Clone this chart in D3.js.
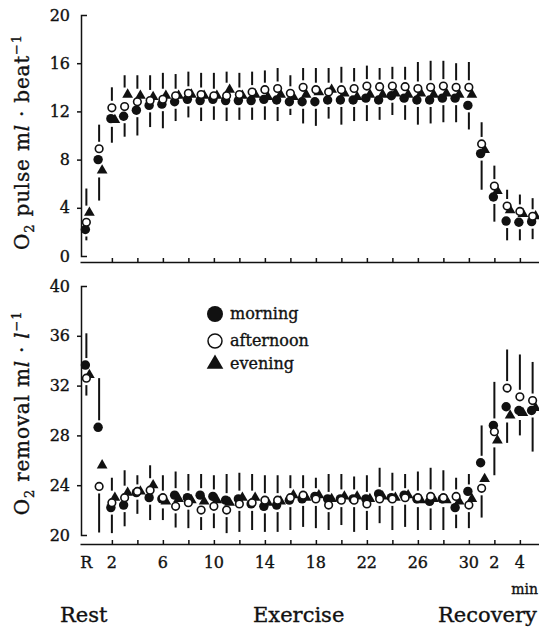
<!DOCTYPE html>
<html>
<head>
<meta charset="utf-8">
<script src="https://cdn.jsdelivr.net/npm/d3@7"></script>
<style>
  body { margin: 0; background: #fff; }
  svg { display: block; }
  text { font-family: "DejaVu Serif", "Liberation Serif", serif; fill: #111; stroke: #111; stroke-width: 0.35px; }
  .axis path, .axis line { stroke: #111; stroke-width: 1.5; }
</style>
</head>
<body>
<svg></svg>
<script>
// time points: 0 = R (rest), 1..30 exercise minutes, 31..35 recovery minutes 1..5
let steps = d3.range(36)
let xTickPos = [2, 4, 6, 8, 10, 12, 14, 16, 18, 20, 22, 24, 26, 28, 30, 32, 34]
let xLabelPos = [0, 2, 6, 10, 14, 18, 22, 26, 30, 32, 34]
let xLabels = ['R', '2', '6', '10', '14', '18', '22', '26', '30', '2', '4']

let pulseTicks = [0, 4, 8, 12, 16, 20]
let removalTicks = [20, 24, 28, 32, 36, 40]

// O2 pulse (ml/beat)
let pulseMorning = [2.2, 8.0, 11.4, 11.6, 12.1, 12.5, 12.6, 12.8, 13.0, 12.9, 13.0, 12.9, 12.9, 12.9, 13.0, 12.95, 12.8, 12.8, 12.8, 12.95, 12.95, 12.95, 13.1, 12.95, 13.3, 13.1, 12.95, 12.95, 13.1, 13.1, 12.5, 8.5, 4.9, 2.9, 2.8, 2.85]
let pulseAfternoon = [2.8, 8.9, 12.3, 12.4, 12.8, 12.9, 13.0, 13.3, 13.5, 13.4, 13.3, 13.3, 13.4, 13.6, 13.8, 13.9, 13.5, 14.0, 13.8, 13.6, 13.8, 13.9, 14.1, 14.05, 14.1, 14.05, 13.9, 14.0, 14.1, 14.0, 14.0, 9.3, 5.8, 4.15, 3.7, 3.3]
let pulseEvening = [3.6, 7.1, 11.3, 13.4, 13.3, 13.2, 13.3, 13.3, 13.4, 13.3, 13.3, 13.8, 13.3, 13.4, 13.2, 13.4, 13.2, 13.4, 13.6, 13.8, 13.5, 13.2, 13.4, 13.4, 13.5, 13.4, 13.5, 13.4, 13.5, 13.4, 13.4, 8.8, 5.4, 3.8, 3.5, 3.3]
let pulseUpper = [5.6, 10.9, 14.0, 15.0, 15.0, 15.0, 15.2, 15.1, 15.3, 15.2, 15.2, 15.3, 15.2, 15.3, 15.4, 15.6, 15.0, 15.6, 15.6, 15.6, 15.7, 15.6, 15.8, 15.6, 15.7, 15.7, 16.1, 16.2, 16.2, 16.0, 16.1, 11.1, 7.5, 5.5, 5.1, 4.8]
let pulseLower = [1.3, 4.6, 9.4, 9.9, 10.0, 10.7, 10.6, 11.2, 11.5, 11.2, 11.3, 11.2, 11.3, 11.3, 11.3, 11.2, 11.7, 11.0, 10.8, 11.4, 10.9, 11.2, 11.2, 11.3, 11.7, 11.3, 10.9, 11.0, 11.1, 11.1, 10.5, 5.5, 2.85, 1.3, 1.3, 1.4]

// O2 removal (ml/l)
let removalMorning = [33.65, 28.65, 22.2, 22.4, 23.4, 23.0, 22.9, 23.2, 23.0, 23.2, 23.1, 22.8, 22.9, 22.5, 22.3, 22.4, 22.8, 22.9, 23.1, 22.9, 22.9, 22.9, 22.9, 23.3, 23.0, 23.2, 22.9, 22.7, 22.9, 22.2, 23.5, 25.8, 28.8, 30.3, 30.0, 30.0]
let removalAfternoon = [32.6, 23.9, 22.6, 23.0, 23.5, 23.6, 23.0, 22.3, 22.6, 22.0, 22.3, 22.0, 22.5, 22.6, 22.8, 22.8, 23.0, 23.2, 22.9, 22.4, 22.8, 22.8, 22.5, 22.9, 22.9, 23.0, 23.0, 23.1, 23.0, 23.1, 22.4, 23.75, 28.3, 31.8, 31.1, 30.8]
let removalEvening = [32.85, 25.6, 23.0, 23.4, 23.5, 24.0, 22.7, 22.9, 22.8, 22.7, 22.8, 22.6, 23.0, 23.0, 22.6, 22.7, 23.2, 23.0, 23.2, 22.9, 23.1, 23.1, 22.9, 23.1, 23.0, 23.2, 22.8, 22.9, 22.8, 22.7, 22.9, 24.5, 27.6, 29.6, 29.8, 30.2]
let removalUpper = [36.2, 32.6, 24.6, 25.2, 24.8, 25.6, 24.8, 25.1, 24.9, 24.9, 24.8, 24.9, 25.0, 24.9, 24.8, 24.8, 24.8, 24.8, 24.6, 24.9, 24.9, 24.7, 24.8, 25.4, 25.0, 24.9, 25.1, 25.4, 25.2, 24.6, 24.9, 28.8, 32.3, 34.9, 34.5, 33.9]
let removalLower = [31.2, 20.2, 20.15, 20.7, 21.7, 21.2, 21.2, 20.6, 20.55, 20.4, 20.55, 20.15, 20.25, 20.4, 20.25, 20.25, 20.4, 20.65, 20.55, 20.4, 20.8, 20.25, 20.4, 20.95, 20.4, 20.65, 20.4, 20.4, 20.4, 20.55, 20.55, 21.4, 24.8, 27.4, 28.0, 26.7]

let legendNames = ['morning', 'afternoon', 'evening']

/*
*  RUN
*/
let width = 539,
    height = 633

let svg = d3.select('svg').attr('width', width).attr('height', height)

let x = d3.scaleLinear().domain([-0.5, 35.5]).range([80, 539])

drawPanel({
  y: d3.scaleLinear().domain([0, 20]).range([256, 15]),
  ticks: pulseTicks,
  axisY: 262,
  series: [pulseMorning, pulseAfternoon, pulseEvening],
  upper: pulseUpper,
  lower: pulseLower,
  labels: false
})

drawPanel({
  y: d3.scaleLinear().domain([20, 40]).range([535, 286]),
  ticks: removalTicks,
  axisY: 544,
  series: [removalMorning, removalAfternoon, removalEvening],
  upper: removalUpper,
  lower: removalLower,
  labels: true
})

drawTitles()
drawLegend()

/*
*  HELPERS
*/
function drawPanel(p){
  let g = svg.append('g')

  // y axis, end ticks point inward like the print
  g.append('g').attr('class', 'axis')
    .attr('transform', 'translate(81,0)')
    .call(d3.axisLeft(p.y).tickValues(p.ticks).tickSizeInner(4).tickSizeOuter(-6).tickPadding(7))
    .call(a => a.selectAll('text').style('font-size', '16px').style('font-family', '"DejaVu Serif", serif').attr('fill', '#111'))
    .call(a => a.selectAll('.tick').filter(d => d === p.ticks[0] || d === p.ticks[p.ticks.length - 1]).select('line').remove())

  // x axis, ticks point up
  g.append('g').attr('class', 'axis')
    .attr('transform', `translate(0,${p.axisY})`)
    .call(d3.axisBottom(x).tickValues(xTickPos).tickSizeInner(-4).tickSizeOuter(0).tickFormat(''))

  if(p.labels){
    g.selectAll('.xlab')
      .data(xLabelPos)
      .enter()
      .append('text')
      .attr('class', 'xlab')
      .attr('x', d => x(d))
      .attr('y', p.axisY + 24)
      .attr('text-anchor', 'middle')
      .style('font-size', '16px')
      .text((d, i) => xLabels[i])
  }

  // SD bars above highest and below lowest marker
  let gap = 7
  let bars = g.append('g')
  steps.forEach(i => {
    let vals = p.series.map(s => s[i])
    let top = p.y(d3.max(vals)) - gap
    let bottom = p.y(d3.min(vals)) + gap
    let yu = p.y(p.upper[i]), yl = p.y(p.lower[i])
    if(yu < top){
      bars.append('line').attr('x1', x(i)).attr('x2', x(i)).attr('y1', top).attr('y2', yu)
        .attr('stroke', '#111').attr('stroke-width', 2)
    }
    if(yl > bottom){
      bars.append('line').attr('x1', x(i)).attr('x2', x(i)).attr('y1', bottom).attr('y2', yl)
        .attr('stroke', '#111').attr('stroke-width', 2)
    }
  })

  // morning: filled circles
  g.selectAll('.morning')
    .data(steps)
    .enter()
    .append('circle')
    .attr('cx', d => x(d) - 1)
    .attr('cy', d => p.y(p.series[0][d]))
    .attr('r', 4.7)
    .attr('fill', '#111')

  // evening: triangles
  let tri = d3.symbol().type(d3.symbolTriangle).size(50)
  g.selectAll('.evening')
    .data(steps)
    .enter()
    .append('path')
    .attr('d', tri)
    .attr('transform', d => `translate(${x(d) + 3},${p.y(p.series[2][d])})`)
    .attr('fill', '#111')

  // afternoon: open circles
  g.selectAll('.afternoon')
    .data(steps)
    .enter()
    .append('circle')
    .attr('cx', d => x(d))
    .attr('cy', d => p.y(p.series[1][d]))
    .attr('r', 3.8)
    .attr('fill', '#fff')
    .attr('stroke', '#111')
    .attr('stroke-width', 1.6)
}

function drawTitles(){
  let t1 = svg.append('text')
    .attr('transform', 'translate(29,142) rotate(-90)')
    .attr('text-anchor', 'middle')
    .style('font-size', '20px')
    .style('letter-spacing', '0.8px')
  t1.append('tspan').text('O')
  t1.append('tspan').attr('dy', 5).style('font-size', '13px').text('2')
  t1.append('tspan').attr('dy', -5).text(' pulse m')
  t1.append('tspan').style('font-style', 'italic').text('l')
  t1.append('tspan').text(' \u00b7 beat')
  t1.append('tspan').attr('dy', -8).style('font-size', '13px').text('\u22121')

  let t2 = svg.append('text')
    .attr('transform', 'translate(29,413) rotate(-90)')
    .attr('text-anchor', 'middle')
    .style('font-size', '20px')
    .style('letter-spacing', '0.8px')
  t2.append('tspan').text('O')
  t2.append('tspan').attr('dy', 5).style('font-size', '13px').text('2')
  t2.append('tspan').attr('dy', -5).text(' removal m')
  t2.append('tspan').style('font-style', 'italic').text('l')
  t2.append('tspan').text(' \u00b7 ')
  t2.append('tspan').style('font-style', 'italic').text('l')
  t2.append('tspan').attr('dy', -8).style('font-size', '13px').text('\u22121')

  svg.append('text').attr('x', 538).attr('y', 594).attr('text-anchor', 'end')
    .style('font-size', '14px').text('min')

  let phases = [['Rest', 60], ['Exercise', 253], ['Recovery', 438]]
  svg.selectAll('.phase')
    .data(phases)
    .enter()
    .append('text')
    .attr('x', d => d[1])
    .attr('y', 622)
    .style('font-size', '21px')
    .text(d => d[0])
}

function drawLegend(){
  let l = svg.append('g').attr('class', 'legend')
  let rows = [314, 341, 364]
  l.append('circle').attr('cx', 215).attr('cy', rows[0]).attr('r', 8).attr('fill', '#111')
  l.append('circle').attr('cx', 215).attr('cy', rows[1]).attr('r', 7)
    .attr('fill', '#fff').attr('stroke', '#111').attr('stroke-width', 1.5)
  l.append('path').attr('d', d3.symbol().type(d3.symbolTriangle).size(120))
    .attr('transform', `translate(215,${rows[2]})`).attr('fill', '#111')
  l.selectAll('.lt')
    .data(legendNames)
    .enter()
    .append('text')
    .attr('x', 230)
    .attr('y', (d, i) => rows[i] + 5)
    .style('font-size', '16px')
    .text(d => d)
}
</script>
</body>
</html>
